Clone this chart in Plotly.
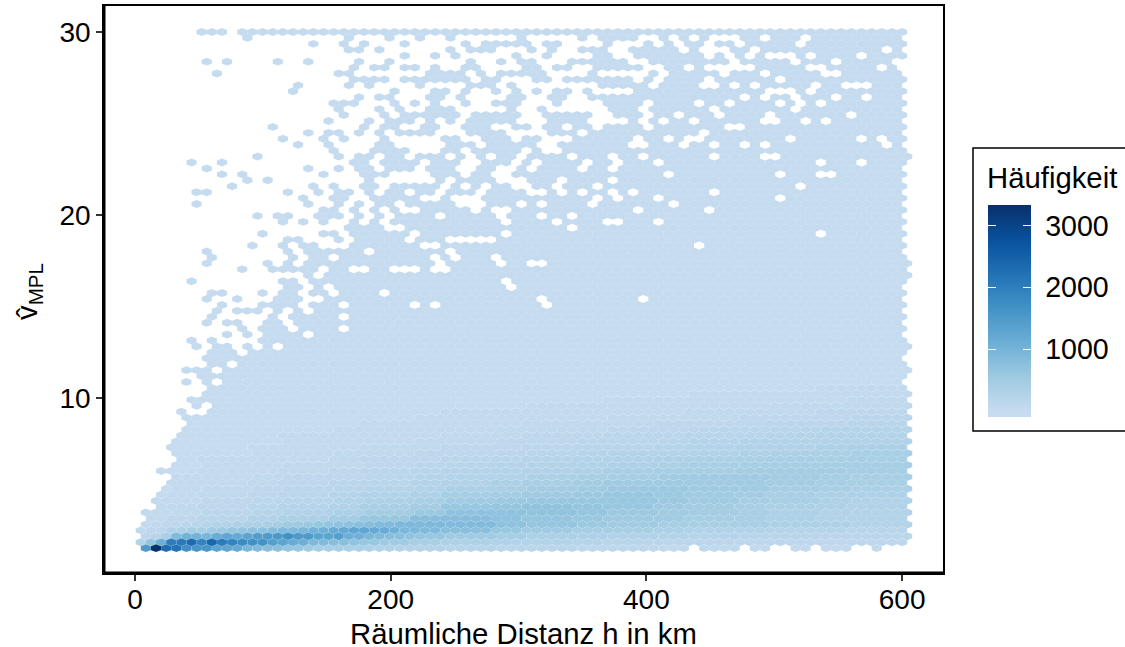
import plotly.graph_objects as go
from plotly.colors import sample_colorscale

# ---------- chart values ----------
X_TICKS = [0, 200, 400, 600]
Y_TICKS = [10, 20, 30]
X_TITLE = "Räumliche Distanz h in km"
Y_TITLE = "v̂<sub>MPL</sub>"
LEGEND_TITLE = "Häufigkeit"
LEGEND_TICKS = [1000, 2000, 3000]
COUNT_MIN, COUNT_MAX = -98, 3336
BLUES = ["#c6dbef", "#9ecae1", "#6baed6", "#4292c6", "#2171b5", "#08519c", "#08306b"]

# hexagon lattice of the bins (km / nu units)
FIRST_X, STEP_X = 4.5, 7.94
TOP_Y, STEP_Y = 30.0, 0.3242
BASE_COUNT = 2

# occupied cells per row, top row first ("a-b" adds a run, "!a" removes cells)
ROW_CELLS = [
 "6-8 10-75",
 "10 20 24 27 30 37 43 45-48 51 53-74 !54 !56-58 !61 !65",
 "17 20 22 26 32 34-38 40 41 46 50 52-75 !53 !56 !59 !65",
 "20 21 23 30 32-34 38 40 43-45 48-74 !53 !55-57 !60 !73",
 "26 29 31 37 40 45 46 49-75 !56 !58 !60 !62-64 !66 !71",
 "6 8 13 16 21 24 32 35 37 38 42-47 50-73 !58 !64 !68",
 "21 23 24 26 27 29 32 33 38 39 41 42 45-49 52-74 !54 !56-60 !66 !67 !73",
 "7 19 20 28-31 33 35-39 44 50 52-74 !57 !61 !67 !68",
 "21-24 26-32 34 35 39 40 42-48 50 52-75 !56 !63",
 "15 20 22 27 32-34 36 45-49 51-74 !55 !56 !58 !60 !66 !69-71",
 "15 25 29 30 32 35 37 39 41 42 44 49-75 !62-64 !66",
 "21 23 24 28 29 31 36 37 40 41 44-74 !59 !61 !64 !68 !71",
 "19-21 25 27 29 32 35-37 41 46-49 51-75 !55 !58 !63 !65 !67",
 "19 23 25 28-30 36 39 46-74 !49 !56 !64",
 "20 24 26-31 33-37 40-44 47-75 !50 !53 !57 !62 !70",
 "18 22 24-26 28 30 32-36 40-43 48 50 52-74 !54 !61 !62 !65 !67",
 "13 22 24 25 28 29 32-34 37 38 40 41 43 44 46-49 51-75 !58 !59",
 "16 18 19 21 23 25-28 32-35 40-42 44-74 !55",
 "14 18 20 24 30 31 34-36 38 39 43-75 !49 !52 !54 !55 !64 !71 !73",
 "15 18 23 24 30-32 34-38 41-74 !48 !49 !53 !56 !59 !61 !73",
 "19 23-75 !27-29 !32 !38 !40 !41",
 "11 19 21 22 24-75 !26 !30 !32 !34 !37 !42 !46 !49 !56 !61 !62",
 "5 8 21 22 24-75 !28 !32 !33 !37 !39 !44 !47 !51 !67 !71",
 "6 16 19 21 22 24-74 !27 !31 !32 !35 !36 !38 !43 !46",
 "8 10 18 22 23 24-75 !25-28 !32 !35 !36 !52 !63 !67 !68",
 "10 12 22 29-74 !30 !35-37 !41 !46",
 "9 17 19 22 23 25-75 !30 !32 !34 !37 !38 !41 !45 !65",
 "5 6 14 17 19 20 22 24-74 !26 !29 !33 !38 !39 !41 !43 !46 !48 !56",
 "16 19 20 23-75 !28 !29 !31-33 !45 !47 !51 !63",
 "5 16 19 21 23-74 !25 !31-33 !37 !39 !44 !52",
 "18 19 21 23-75 !24 !26 !27 !33 !35 !36 !49 !56",
 "11 13 14 17-19 21 23 25-74 !29 !35 !39 !42",
 "14 16 18 21 23 25-75 !36 !41 !46 !47 !51",
 "20-23 26-74 !42",
 "12 18 19 21-75 !27 !36 !67",
 "14 15 19 21-74 !26 !30-34",
 "11 14 16 17 21-75 !28 !29 !55",
 "6 14 16-21 23-74 !30",
 "7 15 17 18 20-75 !29 !31 !35",
 "6 12 14 16-75 !29 !35 !38 !39",
 "10 13-75 !18 !21 !22 !25-27 !29 !30",
 "16-75 !17",
 "5 14 15 17-75 !36",
 "14 15 17-74 !18 !36",
 "7 8 12 14 15 17-75 !19 !24",
 "6 9 13-15 18-74 !39 !49",
 "8 12-15 17-75 !20 !27 !29 !40",
 "7 9-11 13 15 17-74",
 "7 13 15-75 !20",
 "6 8 9 12 13 15-74",
 "10 12-14 16-75 !20",
 "8 10 12-15 17-74",
 "5 7 12-75",
 "5 7 8 10 12 14-75",
 "7-9 11-75",
 "6-74",
 "7 8 10-75",
 "4-6 8-75",
 "6-75",
 "4 6 8-74",
 "7-75",
 "6-75",
 "5-75",
 "5 7-75",
 "4 7-75",
 "4-75",
 "5-75",
 "4-75",
 "4-75",
 "3-75",
 "3-75",
 "3-75",
 "4-75",
 "3-75",
 "2-75",
 "3-75",
 "3-75",
 "2-75",
 "2-75",
 "1-75",
 "2-75",
 "0-75",
 "1-75",
 "0-75",
 "0-75",
 "0-75",
 "0-75",
 "0-75 !54 !59 !62 !63 !66 !70 !71 !73-75",
]

# estimated counts, rows 58..87, one value per block of columns (0,4,8..72)
COUNT_FIRST_ROW = 58
COUNT_BLOCK = 4
COUNT_ROWS = [
 [2,2,2,3,3,4,5,6,7,8,9,10,10,11,12,13,14,16,18],
 [2,2,3,3,4,5,6,8,9,10,11,12,13,14,15,17,19,22,26],
 [2,3,3,4,5,6,8,10,11,12,14,15,17,19,21,24,27,31,36],
 [2,3,4,5,6,8,10,12,14,16,18,20,23,26,29,33,38,43,50],
 [2,4,5,6,8,10,12,15,18,21,24,27,31,35,40,45,52,60,70],
 [3,4,6,8,10,12,15,19,23,27,31,36,41,47,53,60,69,80,92],
 [3,5,7,10,13,16,20,25,30,35,41,47,54,62,70,79,90,104,118],
 [3,6,8,12,16,20,26,32,38,44,52,60,69,79,90,102,116,133,150],
 [4,7,10,15,20,25,32,40,48,56,66,77,89,102,117,132,150,170,190],
 [4,8,12,18,24,30,39,50,60,70,84,98,114,132,150,170,192,215,238],
 [5,9,15,22,29,37,48,60,73,86,103,120,140,160,182,205,228,252,275],
 [5,11,18,26,35,45,58,72,88,105,125,147,170,195,218,242,266,290,312],
 [6,13,21,31,42,54,70,88,108,128,152,178,205,232,258,284,308,332,350],
 [7,15,25,37,50,64,84,106,131,155,184,214,245,276,303,330,353,375,385],
 [8,18,30,44,60,76,100,128,158,185,220,254,290,325,352,380,400,412,415],
 [9,21,35,52,72,90,118,152,188,220,260,298,338,378,402,430,440,445,430],
 [11,25,42,62,85,105,140,180,224,260,304,346,392,435,455,475,470,465,430],
 [13,30,50,74,100,125,165,215,264,304,352,400,452,495,500,505,480,455,410],
 [16,36,60,88,118,148,195,245,305,355,410,462,515,540,525,510,475,435,390],
 [20,42,70,105,140,175,235,290,360,420,472,525,568,570,535,495,450,405,365],
 [25,50,85,125,165,210,280,340,425,490,545,590,605,580,525,472,420,370,330],
 [30,60,100,150,200,250,330,415,505,580,620,635,625,570,510,445,388,345,305],
 [35,70,120,180,240,300,390,490,600,670,680,655,605,545,480,420,365,320,280],
 [40,80,150,220,300,370,480,590,710,735,690,640,585,525,465,400,345,300,265],
 [50,100,190,280,380,470,620,780,810,735,660,605,550,500,445,390,340,295,260],
 [60,170,280,420,570,720,880,920,860,740,650,575,505,450,420,385,350,315,270],
 [80,330,550,720,950,1200,1200,850,750,620,520,450,400,350,310,270,240,210,190],
 [100,1000,1250,1500,1500,1100,800,600,520,440,370,320,280,250,220,200,180,160,140],
 [250,2100,2050,1650,1100,750,500,400,340,290,250,220,190,170,150,130,120,110,100],
 [1500,1700,1250,800,500,400,300,220,190,160,140,120,100,80,70,60,50,40,35],
]
# cell-by-cell counts for the left end of the densest rows
LEFT_CELLS = {
 83: [60,80,100,130,170,190,220,250,280,320,350,380,420,450,500,530,570,600,650,680,720,760,800,850,880,900,910,920],
 84: [80,100,130,300,330,450,420,500,550,600,650,680,720,780,850,880,950,1000,1050,1150,1200,1250,1250,1200,1150,1050,950,900],
 85: [100,200,400,850,1000,1000,950,1150,1250,1200,1300,1450,1500,1550,1700,1500,1500,1350,1300,1400,1100,1050,950,850,800,750,700,650],
 86: [250,650,1100,2000,2100,2350,1900,2400,2050,1900,1750,1700,1650,1400,1300,1150,1100,900,850,800,750,700,600,600,550,500,500,450],
 87: [1500,3336,2300,2200,1700,1600,1600,1300,1250,1200,950,850,800,750,650,600,500,450,420,400,380,350,330,300,280,260,240,230],
}


def expand(spec):
    cells = set()
    for tok in spec.split():
        drop = tok.startswith("!")
        a, _, b = tok.lstrip("!").partition("-")
        rng = range(int(a), int(b or a) + 1)
        cells = cells - set(rng) if drop else cells | set(rng)
    return sorted(cells)


def count_at(r, c):
    if r in LEFT_CELLS and c < len(LEFT_CELLS[r]):
        return LEFT_CELLS[r][c]
    if r < COUNT_FIRST_ROW:
        return BASE_COUNT
    row = COUNT_ROWS[r - COUNT_FIRST_ROW]
    return row[min(int(round(c / COUNT_BLOCK)), len(row) - 1)]


# the bar runs a little below zero; the palest colour is reached at count 0
SPAN = COUNT_MAX - COUNT_MIN
ZERO = -COUNT_MIN / SPAN
SCALE = [[0, BLUES[0]]] + [[ZERO + (1 - ZERO) * i / (len(BLUES) - 1), col] for i, col in enumerate(BLUES)]
LEVELS = 96

# one filled trace per colour step, so that the hexagons stay real data shapes
groups = {}
hw, q = STEP_X / 2, STEP_Y / 3
for r, spec in enumerate(ROW_CELLS):
    for c in expand(spec):
        lvl = round((count_at(r, c) - COUNT_MIN) / SPAN * LEVELS)
        cx = FIRST_X + STEP_X * c + (STEP_X / 2 if r % 2 else 0)
        cy = TOP_Y - STEP_Y * r
        xs, ys = groups.setdefault(lvl, ([], []))
        xs += [cx, cx + hw, cx + hw, cx, cx - hw, cx - hw, cx, None]
        ys += [cy + 2 * q, cy + q, cy - q, cy - 2 * q, cy - q, cy + q, cy + 2 * q, None]

fig = go.Figure()
for lvl in sorted(groups):
    xs, ys = groups[lvl]
    col = sample_colorscale(SCALE, [min(lvl / LEVELS, 1)])[0]
    fig.add_trace(go.Scatter(x=xs, y=ys, mode="lines", fill="toself", fillcolor=col,
                             line=dict(color="rgba(255,255,255,0.14)", width=0.5),
                             hoverinfo="skip", showlegend=False))

# page geometry
W, H = 1125, 647
L, R, T, B = 104, 943, 6, 573
PW, PH = R - L, B - T
px = lambda v: (v - L) / PW
py = lambda v: (B - v) / PH
BAR_TOP, BAR_BOTTOM, BAR_LEFT, BAR_RIGHT = 205, 417, 988, 1031
FONT = "Liberation Sans"
FS = 28
FS_LEGEND = 28.6
FS_TITLE = 29.3

# colour bar comes from an off-range marker trace
fig.add_trace(go.Scatter(
    x=[-1000], y=[-1000], mode="markers", hoverinfo="skip", showlegend=False,
    marker=dict(color=[COUNT_MIN], cmin=COUNT_MIN, cmax=COUNT_MAX, colorscale=SCALE, showscale=True,
                colorbar=dict(x=px(BAR_LEFT), xanchor="left", y=py(BAR_TOP), yanchor="top",
                              thicknessmode="pixels", thickness=BAR_RIGHT - BAR_LEFT,
                              lenmode="pixels", len=BAR_BOTTOM - BAR_TOP, xpad=0, ypad=0,
                              outlinewidth=0, borderwidth=0, ticks="inside", ticklen=8,
                              tickcolor="white", tickwidth=1, tickvals=LEGEND_TICKS,
                              ticktext=[f"\u00a0{v}" for v in LEGEND_TICKS],
                              tickfont=dict(family=FONT, size=FS_LEGEND, color="black"))),
))
# transparent second bar whose only visible part is the left-hand white ticks
fig.add_trace(go.Scatter(
    x=[-1000], y=[-1000], mode="markers", hoverinfo="skip", showlegend=False,
    marker=dict(color=[COUNT_MIN], cmin=COUNT_MIN, cmax=COUNT_MAX,
                colorscale=[[0, "rgba(0,0,0,0)"], [1, "rgba(0,0,0,0)"]], showscale=True,
                colorbar=dict(x=px(BAR_LEFT), xanchor="left", y=py(BAR_TOP), yanchor="top",
                              thicknessmode="pixels", thickness=8,
                              lenmode="pixels", len=BAR_BOTTOM - BAR_TOP, xpad=0, ypad=0,
                              outlinewidth=0, borderwidth=0, ticks="inside", ticklen=8,
                              tickcolor="white", tickwidth=1, tickvals=LEGEND_TICKS,
                              showticklabels=False)),
))

shapes = [
    dict(type="rect", xref="paper", yref="paper", x0=px(973), x1=px(1135), y0=py(431), y1=py(148),
         line=dict(color="black", width=1.5), layer="below"),
    dict(type="line", xref="paper", yref="paper", x0=0, x1=0, y0=0, y1=1, line=dict(color="black", width=3)),
    dict(type="line", xref="paper", yref="paper", x0=0, x1=1, y0=0, y1=0, line=dict(color="black", width=3)),
]

axis = dict(showgrid=False, zeroline=False, showline=True, mirror=True, linecolor="black", linewidth=1.5,
            ticks="outside", ticklen=6, tickwidth=2, tickcolor="#333333", automargin=False,
            tickfont=dict(family=FONT, size=FS, color="black"))

fig.update_layout(
    width=W, height=H, autosize=False,
    margin=dict(l=L, r=W - R, t=T, b=H - B, autoexpand=False, pad=0),
    paper_bgcolor="white", plot_bgcolor="white",
    font=dict(family=FONT, color="black"),
    xaxis=dict(range=[-24.25, 632], tickvals=X_TICKS, ticklabelstandoff=-5, **axis),
    yaxis=dict(range=[0.437, 31.42], tickvals=Y_TICKS, **axis),
    shapes=shapes,
    annotations=[
        dict(text=X_TITLE, xref="paper", yref="paper", x=0.5, y=py(633), xanchor="center",
             yanchor="middle", showarrow=False, font=dict(family=FONT, size=FS_TITLE)),
        dict(text=LEGEND_TITLE, xref="paper", yref="paper", x=px(985), y=py(177), xanchor="left",
             yanchor="middle", showarrow=False, font=dict(family=FONT, size=FS_TITLE)),
        dict(text=Y_TITLE, xref="paper", yref="paper", x=px(28), y=py(292), xanchor="center",
             yanchor="middle", textangle=-90, showarrow=False, font=dict(family=FONT, size=FS_TITLE)),
    ],
)
fig.write_html("out.html", config={"displayModeBar": False},
               post_script="document.body.style.margin='0';document.body.style.overflow='hidden';")
